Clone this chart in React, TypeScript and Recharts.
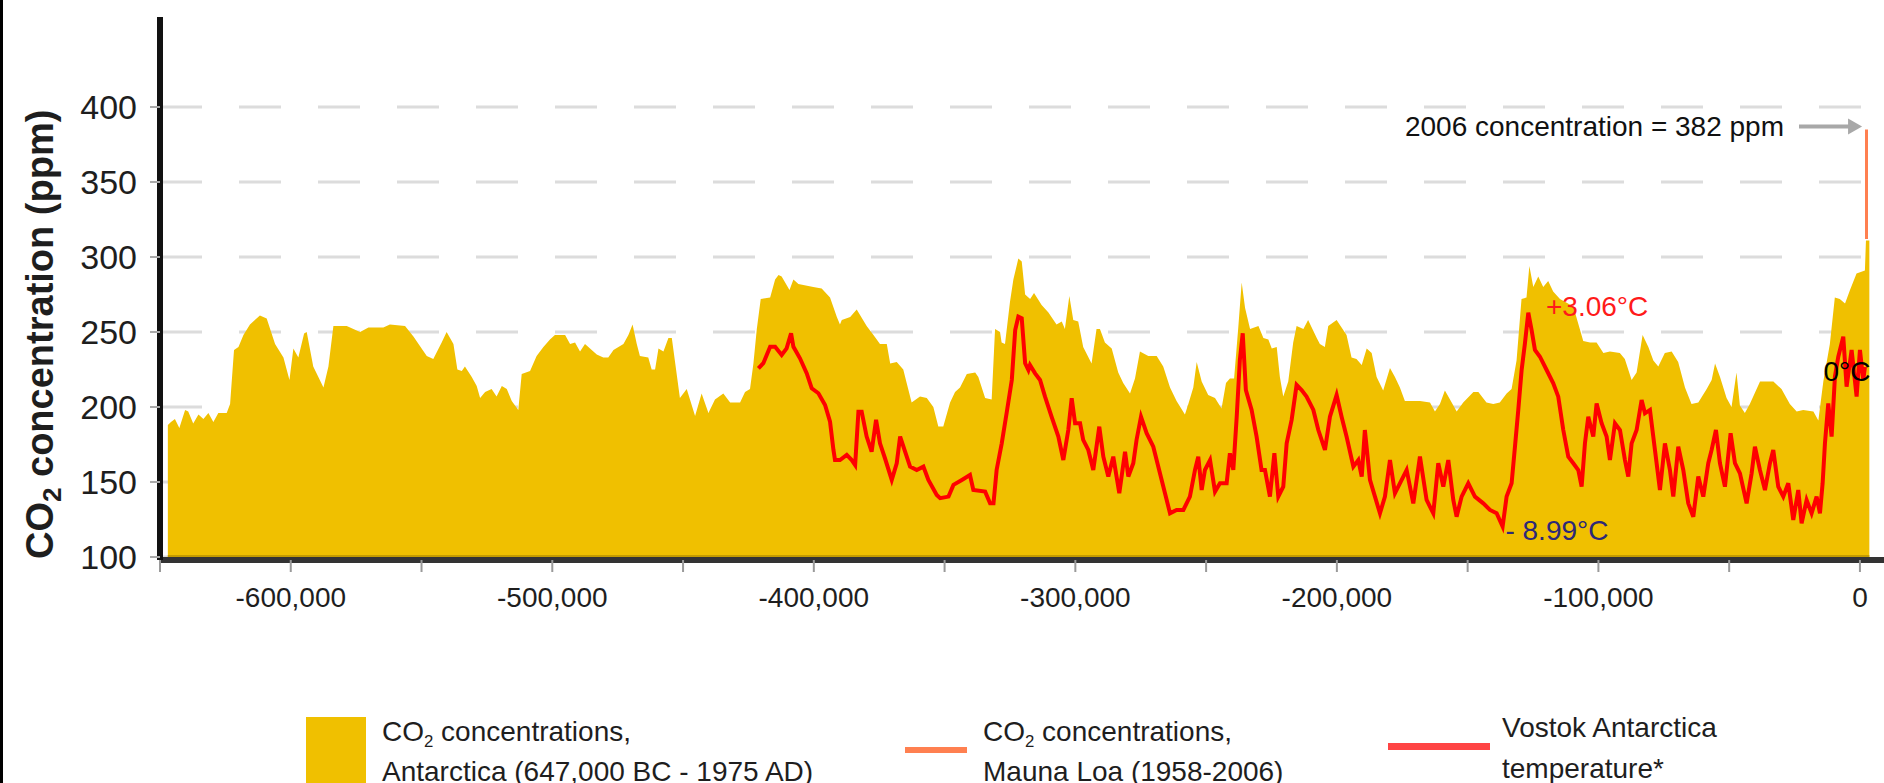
import {
  Area,
  CartesianGrid,
  ComposedChart,
  Line,
  ReferenceDot,
  ReferenceLine,
  XAxis,
  YAxis,
} from "recharts";

const FONT = '"Liberation Sans", Arial, Helvetica, sans-serif';
const GOLD = "#f0c000";
const GOLD_DARK = "#c49c00";
const RED = "#ff0000";
const CORAL = "#ff8050";
const INK = "#1e1e1e";

// Antarctic ice-core CO2, years before/after present vs ppm
const co2Years = [
  -647000, -645800, -644300, -642600, -640400, -639200, -637300, -635300, -633400, -631500,
  -629600, -627700, -624500, -623200, -621700, -620000, -618100, -615600, -611800, -609200,
  -606000, -602800, -600500, -599000, -597100, -594900, -593900, -591400, -587500, -585600,
  -583700, -578600, -573500, -570300, -564600, -562100, -556300, -553100, -548000, -545500,
  -542300, -540400, -537800, -536300, -534600, -533400, -530800, -528900, -527600, -525700,
  -523200, -521300, -519300, -517400, -515500, -513000, -511700, -508500, -506000, -503400,
  -500900, -499000, -495100, -493200, -491300, -489400, -487500, -483000, -480500, -478600,
  -476600, -472800, -470900, -469300, -467700, -466500, -463300, -462000, -460700, -459400,
  -457500, -455600, -454300, -451200, -448600, -445400, -442900, -440300, -437800, -434600,
  -432000, -428200, -426300, -424400, -423100, -421800, -420300, -416700, -414800, -413500,
  -412300, -409300, -407800, -405900, -400200, -397000, -393800, -391200, -390000, -389300,
  -386100, -383600, -379800, -377200, -374700, -372100, -370800, -368300, -365800, -364500,
  -362600, -359400, -356800, -354300, -352400, -350500, -347900, -346000, -344100, -341500,
  -338300, -337100, -334500, -332000, -330700, -328800, -328200, -326900, -325000, -323700,
  -321800, -320500, -319200, -317300, -315800, -312900, -310300, -307200, -305200, -304000,
  -302300, -300800, -298900, -297000, -293800, -291900, -290600, -288700, -286100, -283600,
  -281700, -279100, -277200, -275300, -272100, -268900, -266400, -263800, -261300, -258100,
  -256800, -254900, -253600, -251700, -249200, -246600, -244100, -242400, -240900, -239300,
  -237700, -236400, -235100, -233200, -230000, -228100, -226200, -224900, -223000, -221800,
  -220500, -218600, -216700, -215400, -212800, -211000, -207700, -206500, -204600, -203300,
  -200100, -198200, -196300, -194400, -192500, -190500, -188600, -186700, -184800, -182300,
  -179700, -177800, -175900, -174000, -172100, -168200, -164400, -162500, -160600, -158700,
  -156100, -154200, -151700, -147800, -145900, -142800, -140200, -137700, -135100, -133200,
  -131300, -129400, -127500, -126400, -124900, -123000, -121100, -119200, -117300, -114700,
  -109600, -105800, -103200, -100700, -98100, -95600, -91800, -89900, -87300, -85400,
  -83100, -80900, -79000, -77100, -74600, -72000, -69500, -66900, -64400, -61800,
  -58600, -56700, -55400, -53500, -51000, -49100, -47200, -45900, -44000, -42100,
  -38200, -33100, -30000, -26800, -24200, -21700, -17800, -15900, -14000, -11500,
  -9600, -7700, -5700, -3800, -1300, 1900, 2300, 3600,
];
const co2Ppm = [
  188, 190, 192, 186, 198, 197, 189, 195, 192, 196,
  190, 196, 196, 202, 238, 240, 248, 255, 261, 259,
  242, 233, 218, 239, 233, 249, 250, 227, 213, 227,
  254, 254, 250, 253, 253, 255, 254, 247, 234, 232,
  243, 250, 242, 225, 224, 227, 220, 214, 206, 210,
  212, 207, 214, 212, 204, 198, 222, 224, 234, 240,
  245, 248, 248, 242, 243, 237, 242, 235, 233, 233,
  238, 242, 248, 255, 242, 234, 233, 225, 225, 239,
  237, 246, 246, 206, 212, 194, 209, 196, 205, 209,
  203, 203, 210, 212, 229, 252, 272, 273, 285, 288,
  287, 278, 285, 282, 280, 279, 273, 260, 255, 258,
  260, 265, 254, 248, 242, 242, 229, 230, 225, 216,
  203, 207, 206, 200, 187, 187, 203, 210, 213, 222,
  223, 220, 206, 205, 252, 250, 243, 242, 270, 285,
  299, 297, 275, 272, 276, 268, 263, 255, 257, 252,
  274, 258, 257, 240, 229, 252, 252, 243, 239, 223,
  216, 209, 219, 237, 234, 234, 227, 213, 204, 195,
  202, 213, 230, 217, 208, 206, 199, 216, 219, 219,
  253, 283, 266, 252, 254, 246, 245, 239, 240, 220,
  207, 217, 243, 254, 252, 258, 246, 242, 240, 254,
  258, 253, 248, 233, 232, 228, 239, 236, 220, 211,
  226, 220, 213, 204, 204, 204, 203, 197, 202, 211,
  203, 197, 203, 210, 210, 203, 202, 203, 209, 212,
  231, 272, 273, 294, 280, 287, 280, 284, 277, 272,
  267, 244, 243, 243, 236, 237, 236, 232, 218, 223,
  248, 240, 231, 227, 236, 237, 230, 213, 202, 203,
  212, 218, 229, 220, 206, 200, 223, 201, 196, 202,
  217, 217, 212, 202, 197, 198, 197, 191, 217, 242,
  273, 272, 269, 278, 289, 291, 311, 311,
];

// Vostok temperature, °C relative to present
const tempYears = [
  -421200, -419300, -416700, -414800, -412300, -410400, -408700, -407800, -405300, -402700,
  -400800, -398250, -395700, -393800, -392500, -391900, -390000, -387400, -385500, -384200,
  -382950, -381700, -379800, -377900, -376200, -374700, -372800, -370200, -368300, -367000,
  -365100, -363200, -360650, -358100, -356200, -353000, -351700, -348500, -346600, -343400,
  -340300, -339000, -334500, -332600, -331300, -330100, -328150, -326200, -324300, -323000,
  -321800, -320500, -319200, -317950, -317350, -315400, -313500, -311600, -309100, -306500,
  -304600, -302700, -301400, -300100, -298200, -297000, -295050, -293150, -290850, -289300,
  -287400, -285500, -283200, -281000, -279750, -277850, -276600, -274900, -272750, -270200,
  -268300, -266350, -263800, -261300, -258700, -256200, -254250, -253000, -251700, -250450,
  -248500, -246600, -244700, -242150, -240900, -239600, -238300, -237100, -236000, -234800,
  -232600, -230700, -228800, -227500, -225600, -223900, -222400, -220500, -219200, -217300,
  -215400, -213500, -211600, -209000, -207100, -204560, -202650, -200100, -198200, -196300,
  -193700, -191800, -190500, -189300, -187350, -185440, -183530, -181620, -179700, -177800,
  -175900, -173330, -170780, -168240, -165690, -163140, -161230, -159310, -157400, -155490,
  -154220, -152300, -149760, -147210, -144020, -141470, -138920, -136630, -135100, -133190,
  -131910, -130640, -129360, -128090, -126810, -125540, -124270, -122350, -119800, -117260,
  -115350, -113430, -111520, -109610, -107700, -106420, -105150, -103870, -101960, -100690,
  -98780, -96870, -95590, -93670, -91760, -89850, -88580, -87300, -85390, -83480,
  -82200, -80290, -78380, -76470, -74560, -72650, -71370, -69460, -67550, -65640,
  -63720, -61810, -59900, -57990, -56710, -55060, -53530, -51620, -49450, -47790,
  -45880, -43330, -41420, -40150, -38240, -36320, -34410, -33140, -31230, -29310,
  -27400, -25490, -23580, -22300, -20390, -18480, -16570, -15290, -14270, -13380,
  -12110, -10830, -9560, -8280, -6370, -5100, -3180, -1270, 0, 1270,
  1910,
];
const tempC = [
  -0.08, 0.21, 1.14, 1.14, 0.68, 1.05, 1.9, 1.14, 0.49, -0.36,
  -1.2, -1.48, -2.14, -3.08, -4.67, -5.24, -5.24, -4.95, -5.24, -5.52,
  -2.52, -2.52, -3.92, -4.77, -2.98, -4.3, -5.14, -6.36, -5.42, -3.92,
  -4.77, -5.61, -5.8, -5.61, -6.36, -7.21, -7.39, -7.3, -6.64, -6.36,
  -6.08, -6.93, -7.02, -7.68, -7.68, -5.8, -4.3, -2.52, -0.73, 2.08,
  2.83, 2.74, 0.21, -0.17, 0.11, -0.36, -0.73, -1.67, -2.8, -3.92,
  -5.24, -3.55, -1.76, -3.17, -3.17, -4.11, -4.67, -5.8, -3.36, -5.05,
  -6.17, -5.05, -7.11, -4.77, -6.17, -5.42, -4.11, -2.8, -3.73, -4.49,
  -5.61, -6.74, -8.24, -8.05, -8.05, -7.3, -5.8, -5.05, -6.93, -5.8,
  -5.24, -7.02, -6.55, -6.55, -4.86, -5.8, -2.8, 0.39, 1.9, -1.3,
  -2.42, -3.92, -5.8, -5.8, -7.3, -4.86, -7.3, -6.74, -4.3, -2.98,
  -1.01, -1.3, -1.67, -2.42, -3.55, -4.67, -2.8, -1.58, -2.8, -3.92,
  -5.61, -5.24, -6.17, -3.55, -6.36, -7.3, -8.24, -7.3, -5.24, -7.11,
  -6.55, -5.8, -7.68, -5.05, -7.49, -8.24, -5.42, -6.74, -5.24, -7.49,
  -8.43, -7.3, -6.55, -7.3, -7.68, -8.05, -8.24, -8.99, -7.3, -6.55,
  -4.49, -2.42, -0.17, 1.33, 3.06, 2.08, 0.96, 0.58, -0.17, -0.92,
  -1.67, -3.55, -5.05, -5.42, -5.8, -6.74, -4.3, -2.8, -3.92, -2.05,
  -3.17, -3.92, -5.24, -3.17, -3.55, -5.24, -6.17, -4.3, -3.55, -1.86,
  -2.61, -2.42, -4.67, -6.93, -4.3, -5.8, -7.3, -4.49, -5.8, -7.68,
  -8.43, -6.17, -7.3, -5.42, -4.67, -3.55, -5.42, -6.74, -3.73, -5.42,
  -5.99, -7.68, -5.99, -4.49, -5.8, -6.93, -5.42, -4.67, -6.74, -7.3,
  -6.55, -8.61, -6.93, -8.8, -7.49, -8.24, -7.3, -8.24, -6.55, -4.3,
  -2.05, -3.92, -0.54, 0.58, 1.71, -1.11, 0.96, -1.67, 0.96, -0.73,
  0,
];

// Mauna Loa 1958-2006 collapses to one column at this scale
const maunaLoaYears = [2500, 2500];
const maunaLoaPpm = [312, 385];

const yTicks = [100, 150, 200, 250, 300, 350, 400];
const xTicks = [
  -650000, -600000, -550000, -500000, -450000, -400000, -350000,
  -300000, -250000, -200000, -150000, -100000, -50000, 0,
];

const co2Data = co2Years.map((year, i) => ({ year, co2: co2Ppm[i] }));
const tempData = tempYears.map((year, i) => ({ year, temp: tempC[i] }));
const maunaLoaData = maunaLoaYears.map((year, i) => ({ year, co2: maunaLoaPpm[i] }));

function formatYear(v: number): string {
  return v % 100000 === 0 ? v.toLocaleString("en-US") : "";
}

function YTitle({ viewBox }: any) {
  const x = viewBox.x + 53;
  const y = viewBox.y + viewBox.height - 1;
  return (
    <text
      transform={`translate(${x}, ${y}) rotate(-90)`}
      textAnchor="start"
      fontSize={38}
      fontWeight="bold"
      fill={INK}
    >
      CO
      <tspan dy={8} fontSize={26}>2</tspan>
      <tspan dy={-8}> concentration (ppm)</tspan>
    </text>
  );
}

function ArrowNote({ x1, y1, x2, y2 }: any) {
  return (
    <g>
      <text x={x1 - 15} y={y1} textAnchor="end" dominantBaseline="central" fontSize={28} fill="#111">
        2006 concentration = 382 ppm
      </text>
      <line x1={x1} y1={y1} x2={x2 - 12} y2={y2} stroke="#a8a8a8" strokeWidth={4} />
      <path d={`M${x2},${y2} L${x2 - 14},${y2 - 8} L${x2 - 14},${y2 + 8} Z`} fill="#a8a8a8" />
    </g>
  );
}

function Sub2() {
  return <span style={{ fontSize: "0.6em", position: "relative", top: "0.35em" }}>2</span>;
}

export default function App() {
  return (
    <div
      style={{
        position: "absolute",
        left: 0,
        top: 0,
        width: 1884,
        height: 783,
        background: "#fff",
        fontFamily: FONT,
        overflow: "hidden",
      }}
    >
      <ComposedChart width={1884} height={783} margin={{ top: 17, right: 0, bottom: 163, left: 0 }}>
        <CartesianGrid
          vertical={false}
          syncWithTicks
          stroke="#dcdcdc"
          strokeWidth={3}
          strokeDasharray="42 37"
        />
        <Area
          data={co2Data}
          dataKey="co2"
          type="linear"
          fill={GOLD}
          fillOpacity={1}
          stroke="none"
          isAnimationActive={false}
        />
        <ReferenceLine
          segment={[{ x: -647000, y: 100 }, { x: 3600, y: 100 }]}
          stroke={GOLD_DARK}
          strokeWidth={4}
        />
        <Line
          data={tempData}
          dataKey="temp"
          yAxisId="temp"
          type="linear"
          stroke={RED}
          strokeWidth={4}
          dot={false}
          isAnimationActive={false}
        />
        <Line
          data={maunaLoaData}
          dataKey="co2"
          type="linear"
          stroke={CORAL}
          strokeWidth={3}
          dot={false}
          isAnimationActive={false}
        />
        <ReferenceLine
          segment={[{ x: -23300, y: 387 }, { x: 800, y: 387 }]}
          shape={(p: any) => <ArrowNote {...p} />}
        />
        <ReferenceDot
          x={-100500}
          y={3.43}
          yAxisId="temp"
          r={0}
          fill="none"
          stroke="none"
          label={{ value: "+3.06°C", position: "center", fill: "#ff1a1a", fontSize: 28 }}
        />
        <ReferenceDot
          x={-115850}
          y={-9.18}
          yAxisId="temp"
          r={0}
          fill="none"
          stroke="none"
          label={{ value: "- 8.99°C", position: "center", fill: "#2d2878", fontSize: 28 }}
        />
        <ReferenceDot
          x={-4970}
          y={-0.23}
          yAxisId="temp"
          r={0}
          fill="none"
          stroke="none"
          label={{ value: "0°C", position: "center", fill: "#000", fontSize: 28 }}
        />
        <XAxis
          type="number"
          dataKey="year"
          domain={[-650000, 9200]}
          allowDataOverflow
          ticks={xTicks}
          interval={0}
          tickFormatter={formatYear}
          tick={{ fontSize: 28, fill: INK }}
          tickSize={12}
          tickMargin={15}
          tickLine={{ stroke: "#9a9a9a", strokeWidth: 2 }}
          axisLine={{ stroke: "#333", strokeWidth: 6 }}
          height={60}
        />
        <YAxis
          type="number"
          domain={[98, 460]}
          allowDataOverflow
          ticks={yTicks}
          interval={0}
          width={160}
          tick={{ fontSize: 34, fill: INK }}
          tickSize={10}
          tickMargin={13}
          tickLine={{ stroke: "#aaa", strokeWidth: 2 }}
          axisLine={{ stroke: "#111", strokeWidth: 6 }}
          label={(props: any) => <YTitle {...props} />}
        />
        <YAxis yAxisId="temp" orientation="right" domain={[-10.87, 19.71]} allowDataOverflow hide />
      </ComposedChart>

      {/* legend */}
      <div style={{ position: "absolute", left: 306, top: 717, width: 60, height: 70, background: GOLD }} />
      <div style={{ position: "absolute", left: 382, top: 714, fontSize: 28, lineHeight: "36px", color: INK, whiteSpace: "nowrap" }}>
        CO<Sub2 /> concentrations,
        <br />
        Antarctica (647,000 BC - 1975 AD)
      </div>
      <div style={{ position: "absolute", left: 905, top: 747, width: 62, height: 6, background: CORAL }} />
      <div style={{ position: "absolute", left: 983, top: 714, fontSize: 28, lineHeight: "36px", color: INK, whiteSpace: "nowrap" }}>
        CO<Sub2 /> concentrations,
        <br />
        Mauna Loa (1958-2006)
      </div>
      <div style={{ position: "absolute", left: 1388, top: 743, width: 102, height: 7, background: "#ff4444" }} />
      <div style={{ position: "absolute", left: 1502, top: 707, fontSize: 28, lineHeight: "41px", color: INK, whiteSpace: "nowrap" }}>
        Vostok Antarctica
        <br />
        temperature*
      </div>

      {/* black frame edge on the left */}
      <div style={{ position: "absolute", left: 0, top: 0, width: 3, height: 783, background: "#000" }} />
    </div>
  );
}
